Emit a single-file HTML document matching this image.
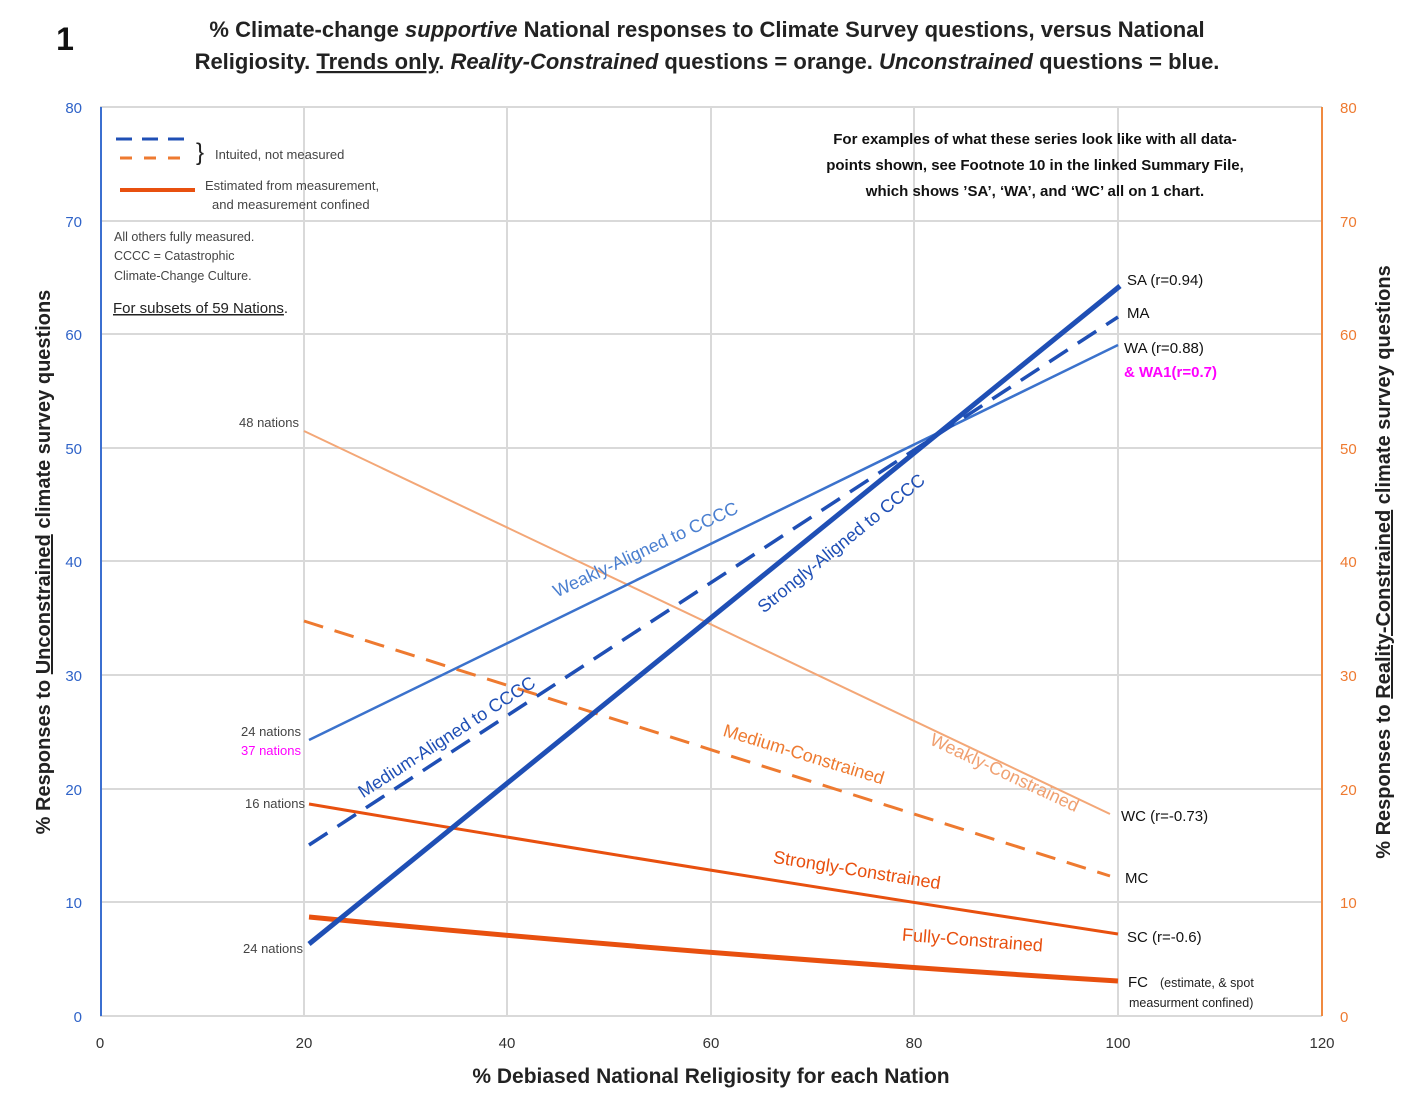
<!DOCTYPE html>
<html><head><meta charset="utf-8"><style>
html,body{margin:0;padding:0;background:#fff;}
svg{display:block;font-family:"Liberation Sans",sans-serif;}
</style></head><body>
<svg width="1418" height="1110" viewBox="0 0 1418 1110" xmlns="http://www.w3.org/2000/svg">
<rect width="1418" height="1110" fill="#fff"/>
<g stroke="#d9d9d9" stroke-width="2">
<line x1="304" y1="107" x2="304" y2="1016"/><line x1="507" y1="107" x2="507" y2="1016"/>
<line x1="711" y1="107" x2="711" y2="1016"/><line x1="914" y1="107" x2="914" y2="1016"/>
<line x1="1118" y1="107" x2="1118" y2="1016"/><line x1="1322" y1="107" x2="1322" y2="1016"/>
<line x1="100" y1="107" x2="1322" y2="107"/><line x1="100" y1="221" x2="1322" y2="221"/>
<line x1="100" y1="334" x2="1322" y2="334"/><line x1="100" y1="448" x2="1322" y2="448"/>
<line x1="100" y1="561" x2="1322" y2="561"/><line x1="100" y1="675" x2="1322" y2="675"/>
<line x1="100" y1="789" x2="1322" y2="789"/><line x1="100" y1="902" x2="1322" y2="902"/>
</g>
<line x1="100" y1="1016" x2="1322" y2="1016" stroke="#d9d9d9" stroke-width="2"/>
<line x1="101" y1="107" x2="101" y2="1016" stroke="#3b6fd0" stroke-width="2"/>
<line x1="1322" y1="107" x2="1322" y2="1016" stroke="#f08a40" stroke-width="2"/>
<g font-size="15" fill="#2f63c8" text-anchor="end">
<text x="82" y="113">80</text><text x="82" y="227">70</text><text x="82" y="340">60</text><text x="82" y="454">50</text>
<text x="82" y="567">40</text><text x="82" y="681">30</text><text x="82" y="795">20</text><text x="82" y="908">10</text><text x="82" y="1022">0</text>
</g>
<g font-size="15" fill="#ee7a30" text-anchor="start">
<text x="1340" y="113">80</text><text x="1340" y="227">70</text><text x="1340" y="340">60</text><text x="1340" y="454">50</text>
<text x="1340" y="567">40</text><text x="1340" y="681">30</text><text x="1340" y="795">20</text><text x="1340" y="908">10</text><text x="1340" y="1022">0</text>
</g>
<g font-size="15" fill="#333" text-anchor="middle">
<text x="100" y="1048">0</text><text x="304" y="1048">20</text><text x="507" y="1048">40</text><text x="711" y="1048">60</text>
<text x="914" y="1048">80</text><text x="1118" y="1048">100</text><text x="1322" y="1048">120</text>
</g>
<text x="65" y="50" font-size="32" font-weight="bold" fill="#111" text-anchor="middle">1</text>
<text x="707" y="37" font-size="22" font-weight="bold" fill="#222" text-anchor="middle">% Climate-change <tspan font-style="italic">supportive</tspan> National responses to Climate Survey questions, versus National</text>
<text x="707" y="69" font-size="22" font-weight="bold" fill="#222" text-anchor="middle">Religiosity. <tspan text-decoration="underline">Trends only</tspan>. <tspan font-style="italic">Reality-Constrained</tspan> questions = orange. <tspan font-style="italic">Unconstrained</tspan> questions = blue.</text>
<text x="711" y="1083" font-size="21" font-weight="bold" fill="#222" text-anchor="middle">% Debiased National Religiosity for each Nation</text>
<text transform="translate(50,562) rotate(-90)" font-size="20" font-weight="bold" fill="#222" text-anchor="middle">% Responses to <tspan text-decoration="underline">Unconstrained</tspan> climate survey questions</text>
<text transform="translate(1390,562) rotate(-90)" font-size="20" font-weight="bold" fill="#222" text-anchor="middle">% Responses to <tspan text-decoration="underline">Reality-Constrained</tspan> climate survey questions</text>
<line x1="116" y1="139" x2="188" y2="139" stroke="#1f4fb5" stroke-width="3" stroke-dasharray="16,10"/>
<line x1="120" y1="158" x2="190" y2="158" stroke="#ee7a30" stroke-width="3" stroke-dasharray="12,12"/>
<text x="196" y="160" font-size="24" fill="#222">}</text>
<text x="215" y="159" font-size="13" fill="#444">Intuited, not measured</text>
<line x1="120" y1="190" x2="195" y2="190" stroke="#e8500f" stroke-width="4"/>
<text x="205" y="190" font-size="13" fill="#444">Estimated from measurement,</text>
<text x="212" y="209" font-size="13" fill="#444">and measurement confined</text>
<g font-size="12.5" fill="#444">
<text x="114" y="241">All others fully measured.</text>
<text x="114" y="260">CCCC = Catastrophic</text>
<text x="114" y="280">Climate-Change Culture.</text>
</g>
<text x="113" y="313" font-size="15" fill="#222"><tspan text-decoration="underline">For subsets of 59 Nations</tspan>.</text>
<g font-size="15" font-weight="bold" fill="#111" text-anchor="middle">
<text x="1035" y="144">For examples of what these series look like with all data-</text>
<text x="1035" y="170">points shown, see Footnote 10 in the linked Summary File,</text>
<text x="1035" y="196">which shows ’SA’, ‘WA’, and ‘WC’ all on 1 chart.</text>
</g>
<line x1="304" y1="431" x2="1110" y2="814" stroke="#f3a777" stroke-width="2"/>
<line x1="304" y1="621" x2="1110" y2="876" stroke="#ee7a30" stroke-width="3" stroke-dasharray="20,12"/>
<path d="M309 804 Q700 870 1118 934" stroke="#e8500f" stroke-width="3" fill="none"/>
<path d="M309 917 Q700 955 1118 981" stroke="#e8500f" stroke-width="5" fill="none"/>
<line x1="309" y1="740" x2="1118" y2="345" stroke="#3b72cc" stroke-width="2.5"/>
<line x1="309" y1="845" x2="1118" y2="317" stroke="#1f4fb5" stroke-width="3.5" stroke-dasharray="22,12"/>
<line x1="309" y1="944" x2="1120" y2="286" stroke="#1f4fb5" stroke-width="5"/>
<text transform="translate(648,555) rotate(-25)" font-size="18" fill="#4a7fd0" text-anchor="middle">Weakly-Aligned to CCCC</text>
<text transform="translate(845,548) rotate(-39)" font-size="18" fill="#1f4fb5" text-anchor="middle">Strongly-Aligned to CCCC</text>
<text transform="translate(450,742) rotate(-33)" font-size="18" fill="#1f4fb5" text-anchor="middle">Medium-Aligned to CCCC</text>
<text transform="translate(1002,778) rotate(25)" font-size="18" fill="#f0a070" text-anchor="middle">Weakly-Constrained</text>
<text transform="translate(802,760) rotate(17)" font-size="18" fill="#ee7a30" text-anchor="middle">Medium-Constrained</text>
<text transform="translate(856,876) rotate(9)" font-size="18" fill="#e8500f" text-anchor="middle">Strongly-Constrained</text>
<text transform="translate(972,946) rotate(4.5)" font-size="18" fill="#e8500f" text-anchor="middle">Fully-Constrained</text>
<g font-size="15" fill="#111" font-weight="500">
<text x="1127" y="285">SA (r=0.94)</text>
<text x="1127" y="318">MA</text>
<text x="1124" y="353">WA (r=0.88)</text>
<text x="1124" y="377" fill="#ff00ff" font-weight="bold">&amp; WA1(r=0.7)</text>
<text x="1121" y="821">WC (r=-0.73)</text>
<text x="1125" y="883">MC</text>
<text x="1127" y="942">SC (r=-0.6)</text>
<text x="1128" y="987">FC</text>
</g>
<text x="1160" y="987" font-size="12.5" fill="#222">(estimate, &amp; spot</text>
<text x="1129" y="1007" font-size="12.5" fill="#222">measurment confined)</text>
<g font-size="13" fill="#444" text-anchor="end">
<text x="299" y="427">48 nations</text>
<text x="301" y="736">24 nations</text>
<text x="301" y="755" fill="#ff00ff">37 nations</text>
<text x="305" y="808">16 nations</text>
<text x="303" y="953">24 nations</text>
</g>
</svg>
</body></html>
